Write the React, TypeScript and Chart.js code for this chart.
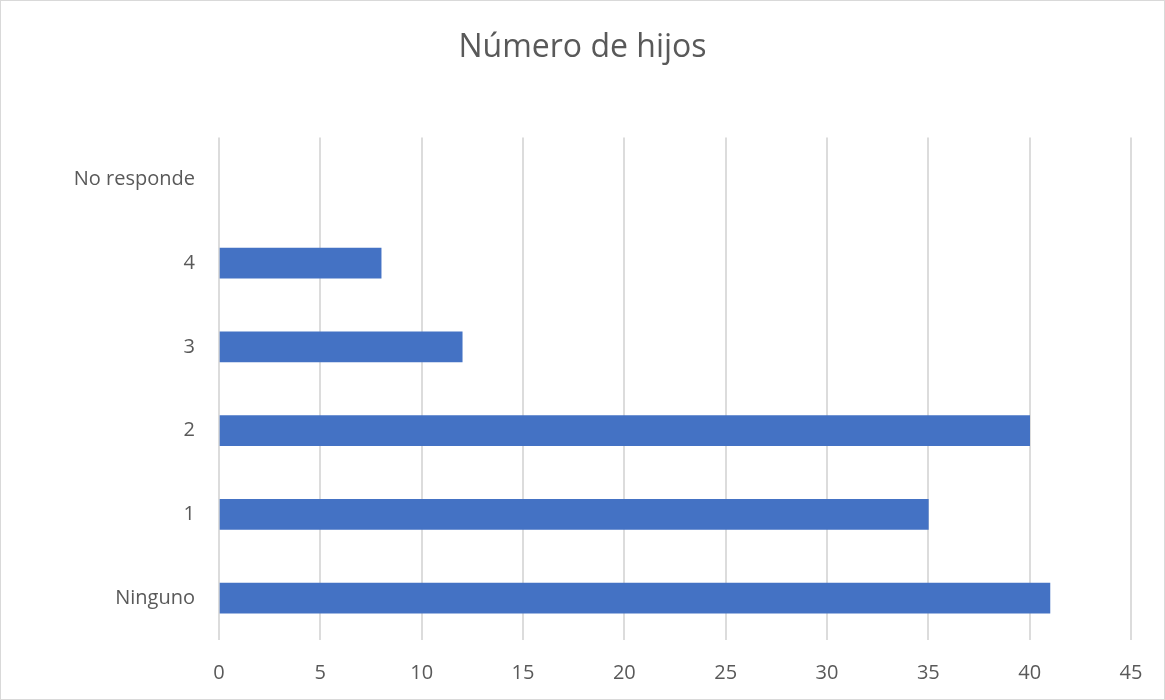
import React, { useEffect, useRef } from "react";
import { Chart, registerables } from "chart.js";

Chart.register(...registerables);

const chartTitle = "Número de hijos";
const categories = ["No responde", "4", "3", "2", "1", "Ninguno"];
const values = [0, 8, 12, 40, 35, 41];
const xMin = 0;
const xMax = 45;
const xStep = 5;

const textColor = "#595959";
const gridColor = "#dcdcdc";
const borderColor = "#d9d9d9";
const barColor = "#4472C4";
const fontFamily = "'Open Sans', sans-serif";

const borderPlugin = {
  id: "outerBorder",
  afterDraw(chart: any) {
    const { ctx, width, height } = chart;
    ctx.save();
    ctx.strokeStyle = borderColor;
    ctx.lineWidth = 1;
    ctx.strokeRect(0.5, 0.5, width - 1, height - 1);
    ctx.restore();
  },
};

export default function App() {
  const ref = useRef<HTMLCanvasElement | null>(null);

  useEffect(() => {
    document.body.style.margin = "0";
    const canvas = ref.current;
    if (!canvas) return;
    const chart = new Chart(canvas, {
      type: "bar",
      data: {
        labels: categories,
        datasets: [
          {
            data: values,
            backgroundColor: (c: any) => (c.raw === 0 ? "rgba(0,0,0,0)" : barColor),
            borderWidth: 0,
            barThickness: 30,
          },
        ],
      },
      plugins: [borderPlugin],
      options: {
        indexAxis: "y",
        responsive: false,
        animation: false,
        layout: { padding: { left: 0, right: 0, top: 0, bottom: 0 } },
        plugins: {
          legend: { display: false },
          tooltip: { enabled: false },
          title: {
            display: true,
            text: chartTitle,
            color: textColor,
            font: { family: fontFamily, size: 32, weight: "normal", lineHeight: 1.2 },
            padding: { top: 29, bottom: 70 },
          },
        },
        scales: {
          x: {
            min: xMin,
            max: xMax,
            ticks: {
              stepSize: xStep,
              color: textColor,
              font: { family: fontFamily, size: 20 },
              padding: 21,
            },
            grid: { color: gridColor, lineWidth: 2, drawTicks: false },
            border: { display: false },
            afterFit(scale: any) {
              scale.height = 60;
            },
          },
          y: {
            ticks: {
              color: textColor,
              font: { family: fontFamily, size: 20 },
              padding: 24,
            },
            grid: { display: false, drawTicks: false },
            border: { display: false },
            afterFit(scale: any) {
              scale.width = 219;
            },
          },
          yRight: {
            type: "category",
            position: "right",
            ticks: { display: false },
            grid: { display: false, drawTicks: false },
            border: { display: false },
            afterFit(scale: any) {
              scale.width = 34;
            },
          },
        },
      },
    });
    return () => chart.destroy();
  }, []);

  return (
    <div style={{ position: "absolute", left: 0, top: 0, width: 1165, height: 700, background: "#fff" }}>
      <canvas ref={ref} width={1165} height={700} />
    </div>
  );
}
